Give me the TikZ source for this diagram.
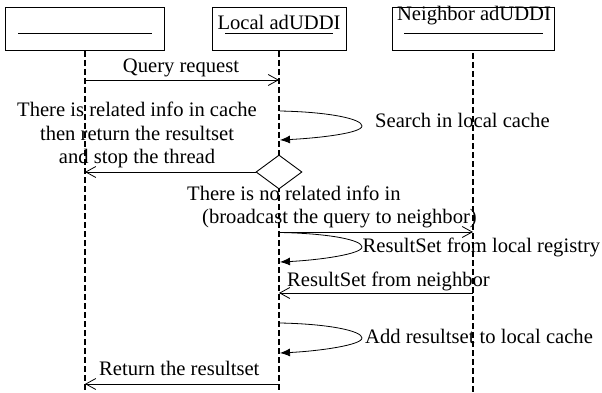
\documentclass[tikz,border=0pt]{standalone}
\usepackage{fontspec}
\setmainfont{Liberation Serif}
\usetikzlibrary{arrows.meta,shapes.geometric}
\begin{document}
\begin{tikzpicture}[x=1pt,y=-1pt,
  font=\fontsize{20.6}{23}\selectfont,
  actor/.style={draw,line width=0.9pt,minimum height=43pt,inner sep=0pt},
  lifeline/.style={line width=1.9pt,dash pattern=on 6pt off 3pt},
  msg/.style={line width=0.8pt,-{Straight Barb[length=10pt,width=11pt,line width=0.8pt]}},
  selfmsg/.style={line width=0.8pt,-{Latex[length=10pt,width=8pt]}},
  lbl/.style={inner sep=0pt,anchor=base west},
  clbl/.style={inner sep=0pt,anchor=base},
  uline/.style={line width=0.8pt}
]
\useasboundingbox (0,0) rectangle (602,393);
% actors
\node[actor,minimum width=159pt] (b1) at (84.5,28.5) {};
\node[actor,minimum width=134pt] (b2) at (279,28.5) {};
\node[actor,minimum width=162pt] (b3) at (473,28.5) {};
\node[clbl] (t2) at (279,30) {Local adUDDI};
\node[clbl] (t3) at (474,21) {Neighbor adUDDI};
\draw[uline] (18,33) -- (152,33);
\draw[uline] (225,33.5) -- (333,33.5);
\draw[uline] (404,33) -- (543,33);
% lifelines
\coordinate (l1top) at (85,51);
\coordinate (l2top) at (279,51);
\coordinate (l3top) at (473,53);
\coordinate (l1bot) at (85,393);
\coordinate (l2bot) at (279,393);
\coordinate (l3bot) at (473,393);
\draw[lifeline] (l1top) -- (l1bot);
\draw[lifeline] (l2top) -- (l2bot);
\draw[lifeline] (l3top) -- (l3bot);
% query request
\coordinate (q1) at (85,80);
\coordinate (q2) at (279,80);
\draw[msg] (q1) -- (q2);
\node[clbl] (lq) at (181,73) {Query request};
% loop 1
\coordinate (a1) at (280,111);
\coordinate (a1t) at (362,126);
\coordinate (a1e) at (280,140);
\draw[selfmsg] (a1) .. controls (330,112) and (362,119) .. (a1t) .. controls (362,133) and (320,138) .. (a1e);
\node[lbl] (ls) at (375,128) {Search in local cache};
% left text
\node[clbl] (lr1) at (137,117) {There is related info in cache};
\node[clbl] (lr2) at (137,140) {then return the resultset};
\node[clbl] (lr3) at (137,163) {and stop the thread};
% diamond
\node[draw,diamond,line width=0.9pt,minimum width=46pt,minimum height=34pt,inner sep=0pt,fill=white] (d) at (279,172) {};
\coordinate (r1) at (85,172);
\draw[msg] (d.west) -- (r1);
\node[lbl] (ln1) at (187,200) {There is no related info in};
\node[lbl] (ln2) at (202,223) {(broadcast the query to neighbor)};
% broadcast
\coordinate (bc1) at (279,232);
\coordinate (bc2) at (473,232);
\draw[msg] (bc1) -- (bc2);
% loop 2
\coordinate (a2) at (280,232.5);
\coordinate (a2t) at (362,247);
\coordinate (a2e) at (280,262);
\draw[selfmsg] (a2) .. controls (330,233.5) and (362,240) .. (a2t) .. controls (362,254) and (320,260) .. (a2e);
\node[lbl] (ll) at (362.5,252) {ResultSet from local registry};
% from neighbor
\coordinate (n1) at (473,293);
\coordinate (n2) at (279,293);
\draw[msg] (n1) -- (n2);
\node[lbl] (lnb) at (287,286) {ResultSet from neighbor};
% loop 3
\coordinate (a3) at (280,323);
\coordinate (a3t) at (362,338);
\coordinate (a3e) at (280,353);
\draw[selfmsg] (a3) .. controls (330,324) and (362,331) .. (a3t) .. controls (362,345) and (320,351) .. (a3e);
\node[lbl] (la) at (365,343) {Add resultset to local cache};
% return
\coordinate (rt1) at (279,384);
\coordinate (rt2) at (85,384);
\draw[msg] (rt1) -- (rt2);
\node[lbl] (lrt) at (99,375) {Return the resultset};
\end{tikzpicture}
\end{document}
